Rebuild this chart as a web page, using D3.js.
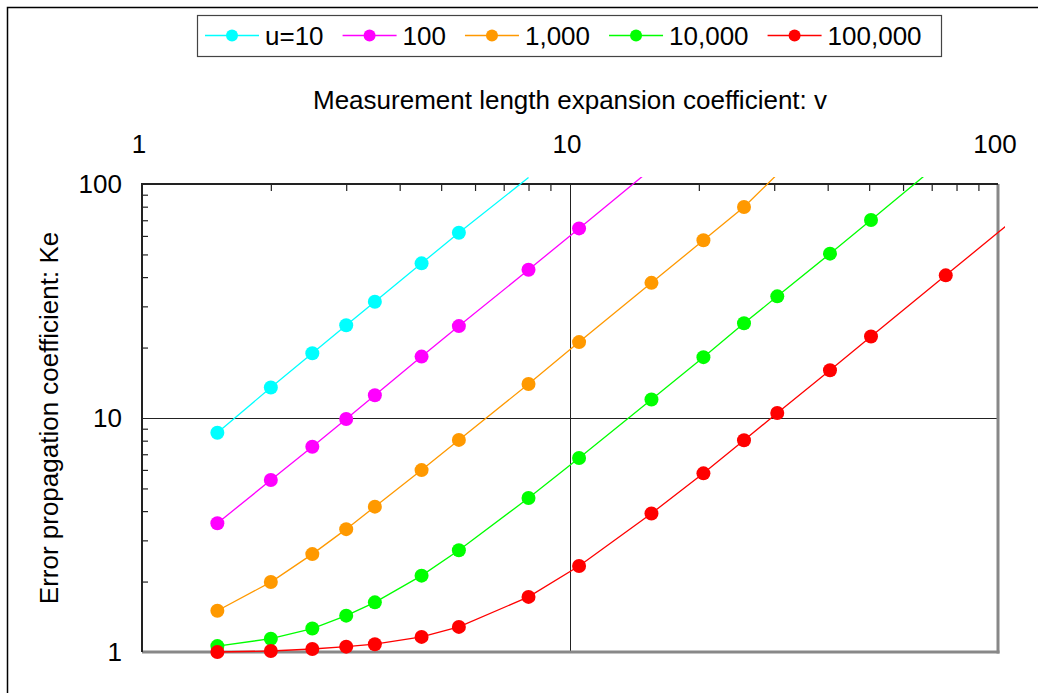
<!DOCTYPE html>
<html>
<head>
<meta charset="utf-8">
<script src="https://cdn.jsdelivr.net/npm/d3@7"></script>
<style>
  body { margin: 0; background: #fff; }
  svg { display: block; font-family: "Liberation Sans", Arial, sans-serif; }
</style>
</head>
<body>
<div id="chart"></div>
<script>
// données
const v = [1.5, 2, 2.5, 3, 3.5, 4.5, 5.5, 8, 10.5, 15.5, 20.5, 25.5, 30.5, 40.5, 50.5, 75.5, 100.5, 150.5];
const names = ["u=10", "100", "1,000", "10,000", "100,000"];
const colors = ["#00ffff", "#ff00ff", "#ff9900", "#00ff00", "#ff0000"];
const ke10 = [8.65, 13.5, 18.9, 24.9, 31.4, 45.8, 61.9, 106.5];
const ke100 = [3.55, 5.43, 7.54, 9.9, 12.5, 18.3, 24.7, 43.0, 64.6, 116];
const ke1000 = [1.5, 1.99, 2.62, 3.35, 4.18, 5.99, 8.06, 13.97, 21.1, 37.8, 57.5, 79.8, 110];
const ke10000 = [1.06, 1.14, 1.26, 1.43, 1.63, 2.12, 2.72, 4.55, 6.75, 12.0, 18.2, 25.4, 33.1, 50.4, 70.2, 129];
const ke100000 = [1.0, 1.01, 1.03, 1.054, 1.08, 1.16, 1.28, 1.72, 2.33, 3.91, 5.8, 8.03, 10.5, 16.0, 22.3, 40.7, 62.5, 114.5];
const majorTicks = [1, 10, 100];
const minorTicks = [2, 3, 4, 5, 6, 7, 8, 9, 20, 30, 40, 50, 60, 70, 80, 90];

const series = [ke10, ke100, ke1000, ke10000, ke100000].map((ke, i) => ({
  name: names[i],
  color: colors[i],
  points: ke.map((k, j) => ({ v: v[j], k: k })),
}));

const width = 1038;
const height = 693;
const margin = { top: 184, right: 40, bottom: 41, left: 142 };
const fs = 26;

const svg = d3
  .select("#chart")
  .append("svg")
  .attr("width", width)
  .attr("height", height);

// cadre extérieur
svg
  .append("rect")
  .attr("x", 7.5)
  .attr("y", 7.5)
  .attr("width", 1200)
  .attr("height", 1000)
  .attr("fill", "none")
  .attr("stroke", "#000")
  .attr("stroke-width", 1.5);

const x = d3.scaleLog([1, 100], [margin.left, width - margin.right]);
const y = d3.scaleLog([1, 100], [height - margin.bottom, margin.top]);
const x0 = x.range()[0], x1 = x.range()[1];
const y0 = y.range()[0], y1 = y.range()[1];

// grilles à 10
svg
  .append("line")
  .attr("x1", x(10) + 0.5).attr("x2", x(10) + 0.5)
  .attr("y1", y1).attr("y2", y0)
  .attr("stroke", "#222").attr("stroke-width", 1);
svg
  .append("line")
  .attr("x1", x0).attr("x2", x1)
  .attr("y1", y(10) + 0.5).attr("y2", y(10) + 0.5)
  .attr("stroke", "#222").attr("stroke-width", 1);

// axe du haut : étiquettes
svg
  .append("g")
  .attr("transform", `translate(-3.5,${y1})`)
  .call(d3.axisTop(x).tickValues(majorTicks).tickFormat(d3.format(",")).tickSize(0).tickPadding(31))
  .call((g) => g.select(".domain").remove())
  .call((g) => g.selectAll("text").attr("font-size", fs).attr("fill", "#000").attr("font-family", null));

// axe du haut : petites graduations vers l'intérieur
svg
  .append("g")
  .attr("transform", `translate(0,${y1})`)
  .call(d3.axisBottom(x).tickValues(minorTicks).tickFormat("").tickSize(7))
  .call((g) => g.select(".domain").remove())
  .call((g) => g.selectAll("line").attr("stroke", "#222").attr("stroke-width", 1.2));

// axe de gauche : étiquettes
svg
  .append("g")
  .attr("transform", `translate(${x0},0)`)
  .call(d3.axisLeft(y).tickValues(majorTicks).tickFormat(d3.format(",")).tickSize(0).tickPadding(20))
  .call((g) => g.select(".domain").remove())
  .call((g) => g.selectAll("text").attr("font-size", fs).attr("fill", "#000").attr("font-family", null));

svg
  .append("g")
  .attr("transform", `translate(${x0},0)`)
  .call(d3.axisRight(y).tickValues(minorTicks).tickFormat("").tickSize(6))
  .call((g) => g.select(".domain").remove())
  .call((g) => g.selectAll("line").attr("stroke", "#222").attr("stroke-width", 1.2));

// bordures du tracé
svg.append("line").attr("x1", x1).attr("x2", x1).attr("y1", y1).attr("y2", y0 + 1.5)
  .attr("stroke", "#888").attr("stroke-width", 3);
svg.append("line").attr("x1", x0).attr("x2", x1 + 1.5).attr("y1", y0).attr("y2", y0)
  .attr("stroke", "#888").attr("stroke-width", 3);
svg.append("line").attr("x1", x0).attr("x2", x1).attr("y1", y1).attr("y2", y1)
  .attr("stroke", "#222").attr("stroke-width", 2);
svg.append("line").attr("x1", x0).attr("x2", x0).attr("y1", y1 - 1).attr("y2", y0)
  .attr("stroke", "#222").attr("stroke-width", 2);

// titres des axes
svg
  .append("text")
  .attr("x", (x0 + x1) / 2)
  .attr("y", 109)
  .attr("text-anchor", "middle")
  .attr("font-size", fs)
  .text("Measurement length expansion coefficient: v");

svg
  .append("text")
  .attr("transform", `translate(58,${(y0 + y1) / 2}) rotate(-90)`)
  .attr("text-anchor", "middle")
  .attr("font-size", fs)
  .text("Error propagation coefficient: Ke");

// les courbes (débordent un peu du cadre comme dans Excel)
svg
  .append("clipPath")
  .attr("id", "clip")
  .append("rect")
  .attr("x", x0 - 7)
  .attr("y", y1 - 7)
  .attr("width", x1 - x0 + 14)
  .attr("height", y0 - y1 + 14);

const line = d3
  .line()
  .x((d) => x(d.v))
  .y((d) => y(d.k));

const plot = svg.append("g").attr("clip-path", "url(#clip)");

plot
  .selectAll(".serie")
  .data(series)
  .enter()
  .append("path")
  .attr("fill", "none")
  .attr("stroke", (d) => d.color)
  .attr("stroke-width", 1.3)
  .attr("d", (d) => line(d.points));

series.forEach((s) => {
  plot
    .selectAll(null)
    .data(s.points.filter((d) => d.v <= 100 && d.k <= 100))
    .enter()
    .append("circle")
    .attr("cx", (d) => x(d.v))
    .attr("cy", (d) => y(d.k))
    .attr("r", 7)
    .attr("fill", s.color);
});

// légende
const legend = svg.append("g");
legend
  .append("rect")
  .attr("x", 197.5)
  .attr("y", 15.5)
  .attr("width", 744)
  .attr("height", 41)
  .attr("fill", "#fff")
  .attr("stroke", "#444")
  .attr("stroke-width", 1.2);

let lx = 205;
const ly = 35.5;
series.forEach((s) => {
  const item = legend.append("g").attr("transform", `translate(${lx},${ly})`);
  item.append("line").attr("x1", 0).attr("x2", 54).attr("stroke", s.color).attr("stroke-width", 1.3);
  item.append("circle").attr("cx", 27).attr("r", 6).attr("fill", s.color);
  const t = item
    .append("text")
    .attr("x", 60)
    .attr("dy", "0.35em")
    .attr("font-size", fs)
    .text(s.name);
  lx += 60 + t.node().getComputedTextLength() + 19;
});
</script>
</body>
</html>
